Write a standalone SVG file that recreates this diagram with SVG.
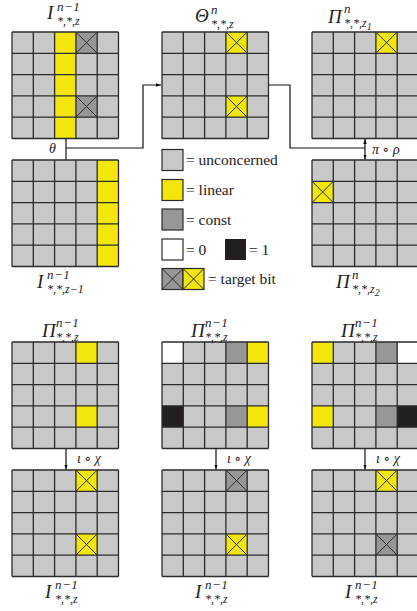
<svg xmlns="http://www.w3.org/2000/svg" width="417" height="611" viewBox="0 0 417 611">
<style>
.bg{fill:#c8c8c8}
.lin{fill:#f2e60c}
.con{fill:#979797}
.one{fill:#231f20}
.zero{fill:#ffffff}
.gl{fill:none;stroke:#2b2b2b;stroke-width:1.3}
.xm{fill:none;stroke:#2b2b2b;stroke-width:1}
.conn{fill:none;stroke:#111;stroke-width:1.2}
.lg{font-family:"Liberation Serif","DejaVu Serif",serif;font-size:15.5px;fill:#222}
.m{font-family:"Liberation Serif","DejaVu Serif",serif;font-style:italic;fill:#222}
.mb{font-size:19px}
.sp{font-size:13px;letter-spacing:0.5px}
.sb{font-size:12px}
.ol{font-family:"Liberation Serif","DejaVu Serif",serif;font-style:italic;font-size:14px;fill:#222}
</style>
<defs>
<path id="gl" class="gl" d="M0 0H106.5M0 21.3H106.5M0 42.6H106.5M0 63.9H106.5M0 85.2H106.5M0 106.5H106.5M0 0V106.5M21.3 0V106.5M42.6 0V106.5M63.9 0V106.5M85.2 0V106.5M106.5 0V106.5"/>
<path id="x" class="xm" d="M0 0L21.3 21.3M21.3 0L0 21.3"/>
<marker id="ah" viewBox="0 0 10 10" refX="10" refY="5" markerWidth="5" markerHeight="5" orient="auto-start-reverse" markerUnits="userSpaceOnUse">
<path d="M0 1.5L10 5L0 8.5Z" fill="#111"/>
</marker>
</defs>

<g id="connectors">
<path class="conn" d="M66 138.5V160"/>
<path class="conn" d="M66 148H143V85H161" marker-end="url(#ah)"/>
<path class="conn" d="M268.5 85H290V148H365"/>
<path class="conn" d="M365 139V159.5" marker-start="url(#ah)" marker-end="url(#ah)"/>
<path class="conn" d="M66 448.5V469.5" marker-end="url(#ah)"/>
<path class="conn" d="M216 448.5V469.5" marker-end="url(#ah)"/>
<path class="conn" d="M365 448.5V469.5" marker-end="url(#ah)"/>
<text class="ol" x="49" y="153">θ</text>
<text class="ol" x="372" y="154">π ∘ ρ</text>
<text class="ol" x="77" y="463">ι ∘ χ</text>
<text class="ol" x="227" y="463">ι ∘ χ</text>
<text class="ol" x="376" y="463">ι ∘ χ</text>
</g>

<g id="g1" transform="translate(12,32)">
<rect class="bg" width="106.5" height="106.5"/>
<rect class="lin" x="42.6" y="0" width="21.3" height="106.5"/>
<rect class="con" x="63.9" y="0" width="21.3" height="21.3"/>
<rect class="con" x="63.9" y="63.9" width="21.3" height="21.3"/>
<use href="#x" x="63.9" y="0"/><use href="#x" x="63.9" y="63.9"/>
<use href="#gl"/>
<text class="m"><tspan class="mb" x="35" y="-13">I</tspan><tspan class="sp" x="45" y="-21">n−1</tspan><tspan class="sb" x="45" y="-7">*,*,z</tspan></text>
</g>

<g id="g2" transform="translate(162,32)">
<rect class="bg" width="106.5" height="106.5"/>
<rect class="lin" x="63.9" y="0" width="21.3" height="21.3"/>
<rect class="lin" x="63.9" y="63.9" width="21.3" height="21.3"/>
<use href="#x" x="63.9" y="0"/><use href="#x" x="63.9" y="63.9"/>
<use href="#gl"/>
<text class="m"><tspan class="mb" x="33" y="-10">Θ</tspan><tspan class="sp" x="49" y="-18">n</tspan><tspan class="sb" x="49" y="-4">*,*,z</tspan></text>
</g>

<g id="g3" transform="translate(312,32)">
<rect class="bg" width="106.5" height="106.5"/>
<rect class="lin" x="63.9" y="0" width="21.3" height="21.3"/>
<use href="#x" x="63.9" y="0"/>
<use href="#gl"/>
<text class="m"><tspan class="mb" x="16" y="-9">Π</tspan><tspan class="sp" x="32" y="-19">n</tspan><tspan class="sb" x="32" y="-5">*,*,z<tspan font-size="10" dy="3">1</tspan></tspan></text>
</g>

<g id="g4" transform="translate(12,160)">
<rect class="bg" width="106.5" height="106.5"/>
<rect class="lin" x="85.2" y="0" width="21.3" height="106.5"/>
<use href="#gl"/>
<text class="m"><tspan class="mb" x="25" y="128">I</tspan><tspan class="sp" x="35" y="119">n−1</tspan><tspan class="sb" x="35" y="133">*,*,z−1</tspan></text>
</g>

<g id="g5" transform="translate(312,160)">
<rect class="bg" width="106.5" height="106.5"/>
<rect class="lin" x="0" y="21.3" width="21.3" height="21.3"/>
<use href="#x" x="0" y="21.3"/>
<use href="#gl"/>
<text class="m"><tspan class="mb" x="24" y="128">Π</tspan><tspan class="sp" x="40" y="119">n</tspan><tspan class="sb" x="40" y="133">*,*,z<tspan font-size="10" dy="3">2</tspan></tspan></text>
</g>

<g id="legend">
<rect class="bg" x="162" y="149.5" width="21" height="21" stroke="#2b2b2b" stroke-width="1.2"/>
<text class="lg" x="186" y="165">= unconcerned</text>
<rect class="lin" x="162" y="179.5" width="21" height="21" stroke="#2b2b2b" stroke-width="1.2"/>
<text class="lg" x="186" y="195">= linear</text>
<rect class="con" x="162" y="209" width="21" height="21" stroke="#2b2b2b" stroke-width="1.2"/>
<text class="lg" x="186" y="225">= const</text>
<rect class="zero" x="162" y="239" width="21" height="21" stroke="#2b2b2b" stroke-width="1.2"/>
<text class="lg" x="186" y="255">= 0</text>
<rect class="one" x="225" y="239" width="21" height="21"/>
<text class="lg" x="249" y="255">= 1</text>
<rect class="con" x="162" y="268.5" width="21" height="21" stroke="#2b2b2b" stroke-width="1.2"/>
<path class="xm" d="M162 268.5L183 289.5M183 268.5L162 289.5"/>
<rect class="lin" x="183" y="268.5" width="21" height="21" stroke="#2b2b2b" stroke-width="1.2"/>
<path class="xm" d="M183 268.5L204 289.5M204 268.5L183 289.5"/>
<text class="lg" x="208" y="284">= target bit</text>
</g>

<g id="g6" transform="translate(12,342)">
<rect class="bg" width="106.5" height="106.5"/>
<rect class="lin" x="63.9" y="0" width="21.3" height="21.3"/>
<rect class="lin" x="63.9" y="63.9" width="21.3" height="21.3"/>
<use href="#gl"/>
<text class="m"><tspan class="mb" x="30" y="-5">Π</tspan><tspan class="sp" x="44" y="-15">n−1</tspan><tspan class="sb" x="44" y="-1">*,*,z</tspan></text>
</g>

<g id="g7" transform="translate(162,342)">
<rect class="bg" width="106.5" height="106.5"/>
<rect class="zero" x="0" y="0" width="21.3" height="21.3"/>
<rect class="con" x="63.9" y="0" width="21.3" height="21.3"/>
<rect class="lin" x="85.2" y="0" width="21.3" height="21.3"/>
<rect class="one" x="0" y="63.9" width="21.3" height="21.3"/>
<rect class="con" x="63.9" y="63.9" width="21.3" height="21.3"/>
<rect class="lin" x="85.2" y="63.9" width="21.3" height="21.3"/>
<use href="#gl"/>
<text class="m"><tspan class="mb" x="29" y="-5">Π</tspan><tspan class="sp" x="43" y="-15">n−1</tspan><tspan class="sb" x="43" y="-1">*,*,z</tspan></text>
</g>

<g id="g8" transform="translate(312,342)">
<rect class="bg" width="106.5" height="106.5"/>
<rect class="lin" x="0" y="0" width="21.3" height="21.3"/>
<rect class="con" x="63.9" y="0" width="21.3" height="21.3"/>
<rect class="zero" x="85.2" y="0" width="21.3" height="21.3"/>
<rect class="lin" x="0" y="63.9" width="21.3" height="21.3"/>
<rect class="con" x="63.9" y="63.9" width="21.3" height="21.3"/>
<rect class="one" x="85.2" y="63.9" width="21.3" height="21.3"/>
<use href="#gl"/>
<text class="m"><tspan class="mb" x="29" y="-5">Π</tspan><tspan class="sp" x="43" y="-15">n−1</tspan><tspan class="sb" x="43" y="-1">*,*,z</tspan></text>
</g>

<g id="g9" transform="translate(12,470)">
<rect class="bg" width="106.5" height="106.5"/>
<rect class="lin" x="63.9" y="0" width="21.3" height="21.3"/>
<rect class="lin" x="63.9" y="63.9" width="21.3" height="21.3"/>
<use href="#x" x="63.9" y="0"/><use href="#x" x="63.9" y="63.9"/>
<use href="#gl"/>
<text class="m"><tspan class="mb" x="33" y="128">I</tspan><tspan class="sp" x="43" y="119">n−1</tspan><tspan class="sb" x="43" y="133">*,*,z</tspan></text>
</g>

<g id="g10" transform="translate(162,470)">
<rect class="bg" width="106.5" height="106.5"/>
<rect class="con" x="63.9" y="0" width="21.3" height="21.3"/>
<rect class="lin" x="63.9" y="63.9" width="21.3" height="21.3"/>
<use href="#x" x="63.9" y="0"/><use href="#x" x="63.9" y="63.9"/>
<use href="#gl"/>
<text class="m"><tspan class="mb" x="33" y="128">I</tspan><tspan class="sp" x="43" y="119">n−1</tspan><tspan class="sb" x="43" y="133">*,*,z</tspan></text>
</g>

<g id="g11" transform="translate(312,470)">
<rect class="bg" width="106.5" height="106.5"/>
<rect class="lin" x="63.9" y="0" width="21.3" height="21.3"/>
<rect class="con" x="63.9" y="63.9" width="21.3" height="21.3"/>
<use href="#x" x="63.9" y="0"/><use href="#x" x="63.9" y="63.9"/>
<use href="#gl"/>
<text class="m"><tspan class="mb" x="33" y="128">I</tspan><tspan class="sp" x="43" y="119">n−1</tspan><tspan class="sb" x="43" y="133">*,*,z</tspan></text>
</g>
</svg>
